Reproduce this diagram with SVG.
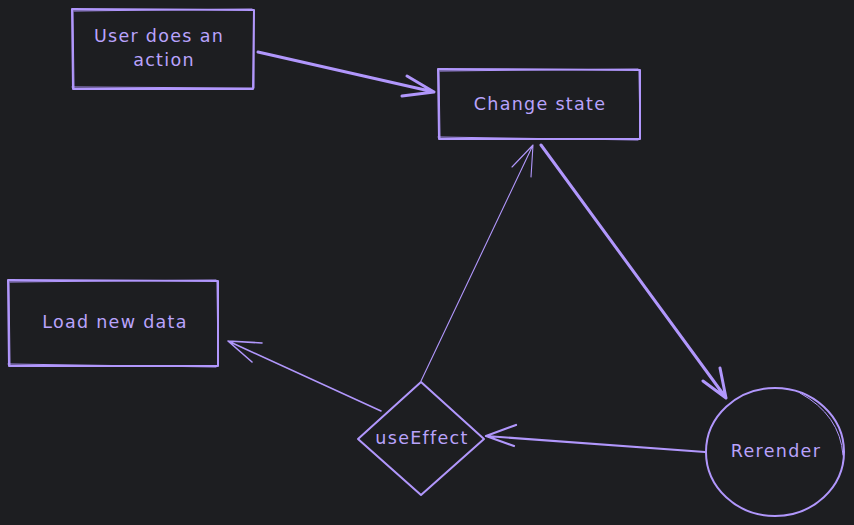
<svg xmlns="http://www.w3.org/2000/svg" width="854" height="525" viewBox="0 0 854 525">
<style>
.s{fill:none;stroke:#b197fc;stroke-linecap:round;stroke-linejoin:round}
.n{stroke-width:2}
.t{fill:#b9a3fc;font-family:"DejaVu Sans",Lato,sans-serif;font-size:17.5px;letter-spacing:1.3px;text-anchor:middle;dominant-baseline:central}
</style>
<rect width="854" height="525" fill="#1d1e21"/>
<g id="user-action">
<path class="s n" d="M72 9 L254 10 L253 89 L73 89 Z"/>
<path class="s" stroke-width="1" d="M74 11 L252 9 M254 12 L254 88 M72 87 L252 88 M73 10 L74 88"/>
<text class="t" x="159" y="36">User does an</text>
<text class="t" x="164" y="60">action</text>
</g>
<g id="change-state">
<path class="s n" d="M438 69 L640 70 L640 139 L439 139 Z"/>
<path class="s" stroke-width="1" d="M440 71 L638 69 M639 71 L640 137 M438 137 L638 140 M439 70 L440 138"/>
<text class="t" x="540" y="104">Change state</text>
</g>
<g id="load-data">
<path class="s n" d="M8 280 L218 281 L218 366 L9 366 Z"/>
<path class="s" stroke-width="1" d="M10 282 L216 280 M217 282 L218 364 M8 364 L216 367 M9 281 L10 365"/>
<text class="t" x="115" y="322">Load new data</text>
</g>
<g id="use-effect">
<path class="s n" d="M421 382 L484 439 L421 495 L358 439 Z"/>
<text class="t" x="422" y="438">useEffect</text>
</g>
<g id="rerender">
<ellipse class="s n" cx="775" cy="452" rx="69" ry="64"/>
<path class="s" stroke-width="1" d="M800 393 Q840 415 843 455"/>
<text class="t" x="776" y="451">Rerender</text>
</g>
<g id="connectors">
<path class="s" stroke-width="3" d="M258 52 L434 92 M407 76 L434 92 L402 96"/>
<path class="s" stroke-width="3" d="M541 145 L726 398 M703 381 L726 398 L720 368"/>
<path class="s" stroke-width="2.2" d="M705 452 L486 436 M516 425 L486 436 L514 446"/>
<path class="s" stroke-width="1.6" d="M381 411 L228 341 M262 343 L228 341 L252 362"/>
<path class="s" stroke-width="1.1" d="M421 381 L533 145 M512 167 L533 145 L531 177"/>
</g>
</svg>
